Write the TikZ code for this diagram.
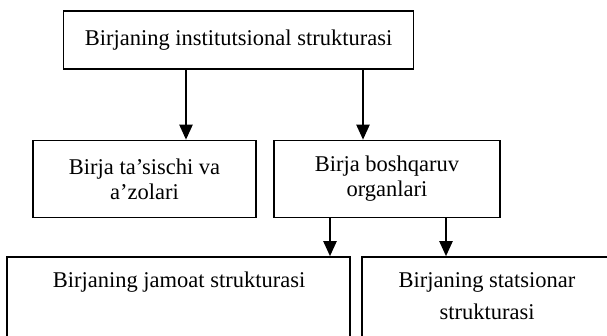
\documentclass[tikz,border=0pt]{standalone}
\usepackage{fontspec}
\setmainfont{Liberation Serif}
\usetikzlibrary{arrows.meta,positioning}

\begin{document}
\begin{tikzpicture}[
  x=1pt, y=-1pt,
  font=\fontsize{22.5}{25}\selectfont,
  box/.style={draw=black, line width=1.6pt, align=center, inner sep=0pt},
  txt/.style={align=center, inner sep=0pt},
  arw/.style={-{Triangle[length=15pt,width=13pt]}, line width=2.2pt}
  ]
\useasboundingbox (0,0) rectangle (607,335);
\clip (0,0) rectangle (607,335);

% top level

\node [box, minimum width=350pt, minimum height=58pt] (inst) at (238.5,40) {Birjaning institutsional strukturasi};

% second level

\node [box, minimum width=223pt, minimum height=77pt] (tasis) at (144.5,179) {Birja ta'sischi va\\a'zolari};
\node [box, minimum width=226pt, minimum height=77pt] (boshq) at (387,179) {Birja boshqaruv\\organlari};

% third level (boxes run past the bottom edge)

\node [box, minimum width=343pt, minimum height=123pt] (jamoat) at (178.5,318.5) {};
\node [txt] (jamtxt) at (179,282) {Birjaning jamoat strukturasi};
\node [box, minimum width=298pt, minimum height=123pt] (stats) at (511,318.5) {};
\node [txt, font=\fontsize{22.5}{32}\selectfont] (statstxt) at (487,296) {Birjaning statsionar\\strukturasi};

% connections

\draw [arw] ([xshift=-52.5pt]inst.south) -- ([xshift=41.5pt]tasis.north);
\draw [arw] ([xshift=124.5pt]inst.south) -- ([xshift=-24pt]boshq.north);
\draw [arw] ([xshift=-57pt]boshq.south) -- ([xshift=151.5pt]jamoat.north);
\draw [arw] ([xshift=59pt]boshq.south) -- ([xshift=-65pt]stats.north);

\end{tikzpicture}
\end{document}
